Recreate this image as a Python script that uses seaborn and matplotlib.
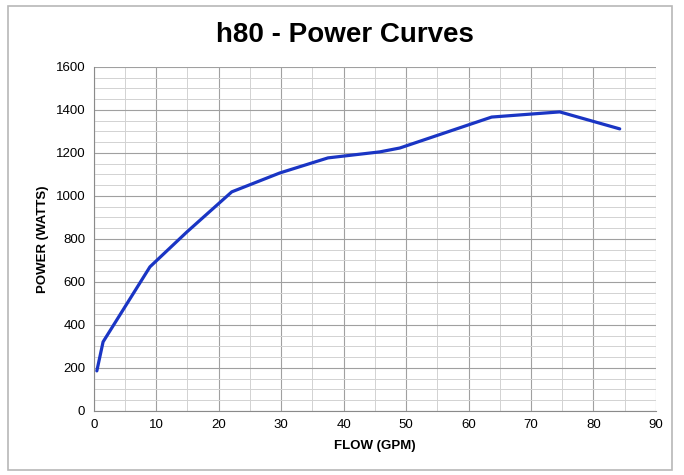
import pandas as pd
import matplotlib.pyplot as plt
import seaborn as sns
from matplotlib.ticker import MultipleLocator
from matplotlib.patches import Rectangle

# 데이터
flow_gpm = [0.5, 1.5, 9.0, 14.9, 22.1, 29.8, 37.5, 45.8, 49.0, 63.7, 74.6, 84.2]
power_watts = [186, 321, 670, 832, 1019, 1107, 1177, 1205, 1223, 1367, 1391, 1312]

df = pd.DataFrame({'flow': flow_gpm, 'power': power_watts})

sns.set_style('white')
plt.rcParams['font.family'] = ['Liberation Sans', 'DejaVu Sans']
plt.rcParams['text.color'] = 'black'
plt.rcParams['axes.labelcolor'] = 'black'
plt.rcParams['xtick.color'] = 'black'
plt.rcParams['ytick.color'] = 'black'

fig = plt.figure(figsize=(6.84, 4.75), dpi=100)
ax = fig.add_axes([0.137, 0.135, 0.822, 0.724])

# 바깥 테두리
fig.patches.append(Rectangle((0.012, 0.01), 0.97, 0.978, transform=fig.transFigure,
                             fill=False, edgecolor='#b8b8b8', linewidth=1.2))

sns.lineplot(data=df, x='flow', y='power', ax=ax, color='#1a35c4', linewidth=2.3)

ax.set_xlim(0, 90)
ax.set_ylim(0, 1600)
ax.xaxis.set_major_locator(MultipleLocator(10))
ax.xaxis.set_minor_locator(MultipleLocator(5))
ax.yaxis.set_major_locator(MultipleLocator(200))
ax.yaxis.set_minor_locator(MultipleLocator(50))
ax.grid(which='major', color='#a0a0a0', linewidth=0.8)
ax.grid(which='minor', color='#d2d2d2', linewidth=0.7)
ax.set_axisbelow(True)

for s in ax.spines.values():
    s.set_visible(False)
ax.spines['left'].set_visible(True)
ax.spines['left'].set_color('#8a8a8a')
ax.spines['bottom'].set_visible(True)
ax.spines['bottom'].set_color('#8a8a8a')

ax.tick_params(which='major', length=3, color='#8a8a8a', labelsize=9.5, pad=3)
ax.tick_params(which='minor', length=0)

ax.set_xlabel('FLOW (GPM)', fontsize=9.5, fontweight='bold', labelpad=6)
ax.set_ylabel('POWER (WATTS)', fontsize=9.5, fontweight='bold', labelpad=5)

fig.text(0.505, 0.927, 'h80 - Power Curves', ha='center', va='center',
         fontsize=20, fontweight='heavy', family=['Liberation Sans', 'DejaVu Sans'])

fig.savefig('out.png', dpi=100)
